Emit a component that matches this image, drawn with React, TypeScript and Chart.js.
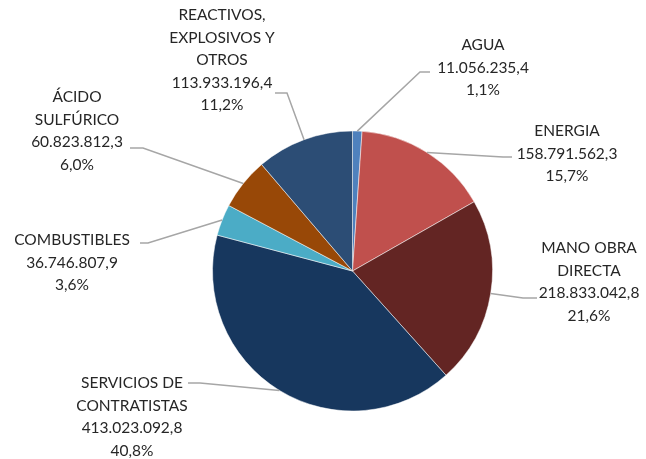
import React, { useEffect, useRef } from "react";
import { Chart, registerables } from "chart.js";

Chart.register(...registerables);

const categories = [
  "AGUA",
  "ENERGIA",
  "MANO OBRA DIRECTA",
  "SERVICIOS DE CONTRATISTAS",
  "COMBUSTIBLES",
  "ÁCIDO SULFÚRICO",
  "REACTIVOS, EXPLOSIVOS Y OTROS",
];
const labelLines = [
  ["AGUA"],
  ["ENERGIA"],
  ["MANO OBRA", "DIRECTA"],
  ["SERVICIOS DE", "CONTRATISTAS"],
  ["COMBUSTIBLES"],
  ["ÁCIDO", "SULFÚRICO"],
  ["REACTIVOS,", "EXPLOSIVOS Y", "OTROS"],
];
const values = [
  11056235.4, 158791562.3, 218833042.8, 413023092.8, 36746807.9, 60823812.3,
  113933196.4,
];
const colors = [
  "#4f81bd",
  "#c0504d",
  "#632523",
  "#17375e",
  "#4bacc6",
  "#984807",
  "#2c4d75",
];

// label layout: text center x, first line center y, leader start & elbow
const labelLayout = [
  { cx: 483, y0: 45, sx: 430, sy: 72, ex: 420 },
  { cx: 567, y0: 131, sx: 512, sy: 157, ex: 503 },
  { cx: 589, y0: 248, sx: 537, sy: 298, ex: 523 },
  { cx: 132, y0: 383, sx: 188, sy: 383, ex: 200 },
  { cx: 72, y0: 240, sx: 140, sy: 243, ex: 148 },
  { cx: 77, y0: 97, sx: 130, sy: 148, ex: 143 },
  { cx: 222, y0: 15, sx: 275, sy: 93, ex: 287 },
];

function fmtNum(v: number): string {
  const fixed = v.toFixed(1);
  const [int, dec] = fixed.split(".");
  const withDots = int.replace(/\B(?=(\d{3})+(?!\d))/g, ".");
  return withDots + "," + dec;
}

const labelPlugin = {
  id: "pieLabels",
  afterDatasetsDraw(chart: any) {
    const ctx = chart.ctx;
    const meta = chart.getDatasetMeta(0);
    const total = values.reduce((a, b) => a + b, 0);
    ctx.save();
    meta.data.forEach((arc: any, i: number) => {
      const p = arc.getProps(["x", "y", "startAngle", "endAngle", "outerRadius"], true);
      const mid = (p.startAngle + p.endAngle) / 2;
      const px = p.x + Math.cos(mid) * p.outerRadius;
      const py = p.y + Math.sin(mid) * p.outerRadius;
      const L = labelLayout[i];
      ctx.strokeStyle = "#a6a6a6";
      ctx.lineWidth = 1.5;
      ctx.beginPath();
      ctx.moveTo(L.sx, L.sy);
      ctx.lineTo(L.ex, L.sy);
      ctx.lineTo(px, py);
      ctx.stroke();

      const lines = [
        ...labelLines[i],
        fmtNum(values[i]),
        ((values[i] / total) * 100).toFixed(1).replace(".", ",") + "%",
      ];
      ctx.fillStyle = "#262626";
      ctx.font = "15.5px Lato, 'Open Sans', sans-serif";
      ctx.textAlign = "center";
      ctx.textBaseline = "middle";
      lines.forEach((t, k) => {
        ctx.fillText(t, L.cx, L.y0 + k * 22.5);
      });
    });
    ctx.restore();
  },
};

export default function App() {
  const ref = useRef<HTMLCanvasElement>(null);
  useEffect(() => {
    if (!ref.current) return;
    const chart = new Chart(ref.current, {
      type: "pie",
      data: {
        labels: categories,
        datasets: [
          {
            data: values,
            backgroundColor: colors,
            borderColor: "rgba(255,255,255,0.5)",
            borderWidth: 1,
          },
        ],
      },
      options: {
        responsive: false,
        animation: false,
        layout: { padding: { left: 212, right: 153, top: 130, bottom: 47 } },
        plugins: {
          legend: { display: false },
          tooltip: { enabled: false },
        },
      },
      plugins: [labelPlugin],
    });
    return () => chart.destroy();
  }, []);
  return (
    <canvas
      ref={ref}
      width={646}
      height={459}
      style={{ position: "absolute", left: 0, top: 0, width: 646, height: 459 }}
    />
  );
}
